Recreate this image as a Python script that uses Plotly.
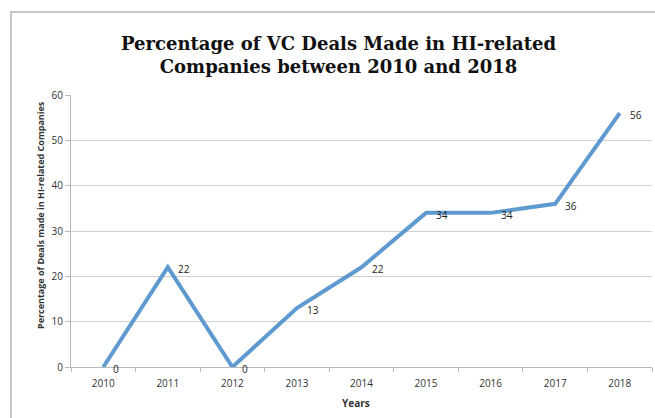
import plotly.graph_objects as go

years = ["2010", "2011", "2012", "2013", "2014", "2015", "2016", "2017", "2018"]
values = [0, 22, 0, 13, 22, 34, 34, 36, 56]
title_text = "Percentage of VC Deals Made in HI-related<br>Companies between 2010 and 2018"
y_title = "Percentage of Deals made in HI-related Companies"
x_title = "Years"

W, H = 655, 418
L, R, T, B = 71, 3, 95, 51
pw, ph = W - L - R, H - T - B

def px_x(x):
    return (x - L) / pw

def px_y(y):
    return (H - B - y) / ph

lab_font = dict(family="Open Sans, Liberation Sans, sans-serif", size=10, color="#222")

fig = go.Figure()
fig.add_trace(go.Scatter(
    x=years, y=values, mode="lines",
    line=dict(color="#5E9ACF", width=4),
    cliponaxis=False, hoverinfo="skip",
))

annotations = [
    dict(text=str(v), x=i, y=v, xref="x", yref="y", showarrow=False,
         xanchor="left", yanchor="middle", xshift=8, yshift=-2, font=lab_font)
    for i, v in enumerate(values)
]
annotations += [
    dict(text="<b>" + y_title + "</b>", x=px_x(40), y=px_y(215), xref="paper", yref="paper",
         textangle=-90, showarrow=False, xanchor="center", yanchor="middle",
         font=dict(family="Open Sans, Liberation Sans, sans-serif", size=9, color="#333")),
    dict(text="<b>" + x_title + "</b>", x=px_x(356), y=px_y(403), xref="paper", yref="paper",
         showarrow=False, xanchor="center", yanchor="middle",
         font=dict(family="Open Sans, Liberation Sans, sans-serif", size=10, color="#333")),
    dict(text="<b>" + title_text + "</b>", x=px_x(338), y=px_y(55), xref="paper", yref="paper",
         showarrow=False, xanchor="center", yanchor="middle",
         font=dict(family="DejaVu Serif, serif", size=18, color="#111")),
]

fig.update_layout(
    width=W, height=H,
    margin=dict(l=L, r=R, t=T, b=B),
    paper_bgcolor="white", plot_bgcolor="white",
    showlegend=False,
    xaxis=dict(type="category", range=[-0.5, 8.5], showgrid=False,
               showline=True, linecolor="#b8b8b8", linewidth=1,
               ticks="outside", tickson="boundaries", ticklen=4, tickcolor="#b8b8b8",
               ticklabelstandoff=7,
               tickfont=dict(family="Open Sans, Liberation Sans, sans-serif", size=10, color="#333"),
               fixedrange=True),
    yaxis=dict(range=[0, 60], dtick=10, showgrid=True, gridcolor="#d0d0d0", gridwidth=1,
               showline=True, linecolor="#b8b8b8", linewidth=1,
               ticks="outside", ticklen=5, tickcolor="#b8b8b8", zeroline=False,
               tickfont=dict(family="Open Sans, Liberation Sans, sans-serif", size=10, color="#333"),
               fixedrange=True),
    shapes=[dict(type="rect", xref="paper", yref="paper",
                 x0=px_x(11), x1=px_x(W + 20), y0=px_y(H + 20), y1=px_y(12),
                 line=dict(color="#c8c8c8", width=2), fillcolor="rgba(0,0,0,0)", layer="below")],
    annotations=annotations,
)

fig.write_html("out.html", config={"displayModeBar": False},
               post_script="document.body.style.margin='0';document.body.style.overflow='hidden';")
